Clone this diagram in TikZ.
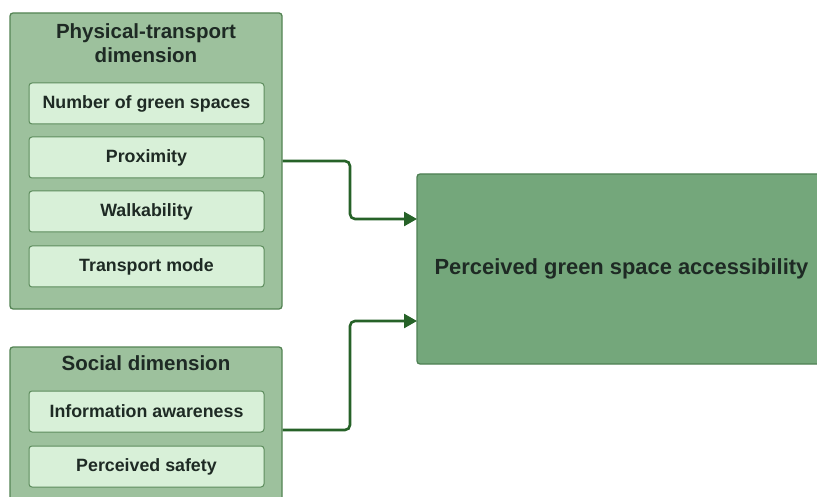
\documentclass[tikz,border=0pt]{standalone}
\usepackage{fontspec}
\setmainfont{Liberation Sans}
\usetikzlibrary{arrows.meta}

\definecolor{groupfill}{RGB}{157,193,157}
\definecolor{groupline}{RGB}{84,132,84}
\definecolor{itemfill}{RGB}{216,240,216}
\definecolor{itemline}{RGB}{92,140,92}
\definecolor{targetfill}{RGB}{116,167,123}
\definecolor{targetline}{RGB}{78,128,84}
\definecolor{linkcol}{RGB}{38,98,40}
\definecolor{labelcol}{RGB}{30,42,36}

\tikzset{
  x=1pt, y=-1pt,
  group/.style={draw=groupline, fill=groupfill, line width=1.3pt,
    rounded corners=3pt, minimum width=272pt, inner sep=0pt},
  item/.style={draw=itemline, fill=itemfill, line width=1pt,
    rounded corners=3pt, minimum width=235pt, minimum height=41pt,
    inner sep=0pt, font=\fontsize{17.8}{20}\selectfont\bfseries, text=labelcol},
  grouptitle/.style={align=center, inner sep=0pt,
    font=\fontsize{20.5}{24}\selectfont\bfseries, text=labelcol},
  target/.style={draw=targetline, fill=targetfill, line width=1.3pt,
    rounded corners=3pt, minimum width=409pt, minimum height=190pt,
    inner sep=0pt, font=\fontsize{21.9}{26}\selectfont\bfseries, text=labelcol},
  link/.style={draw=linkcol, line width=2.6pt, rounded corners=5pt,
    -{Triangle[length=13pt,width=14pt]}}
}

\begin{document}
\begin{tikzpicture}
  \useasboundingbox (0,0) rectangle (817,497);
  \clip (0,0) rectangle (817,497);
  \fill[white] (0,0) rectangle (817,497);

  % physical-transport group
  \node[group, minimum height=296pt] (pt) at (146,161) {};
  \node[grouptitle] (pttitle) at (146,43) {Physical-transport\\dimension};
  \node[item] (ngs)  at (146.5,103.5) {Number of green spaces};
  \node[item] (prox) at (146.5,157.5) {Proximity};
  \node[item] (walk) at (146.5,211.5) {Walkability};
  \node[item] (tm)   at (146.5,266.5) {Transport mode};

  % social group
  \node[group, minimum height=166pt] (soc) at (146,430) {};
  \node[grouptitle] (soctitle) at (146,363) {Social dimension};
  \node[item] (info) at (146.5,411.5) {Information awareness};
  \node[item] (safe) at (146.5,466.5) {Perceived safety};

  % outcome
  \node[target] (pgsa) at (621.5,269) {Perceived green space accessibility};

  % connectors
  \coordinate (in1) at (417,219);
  \coordinate (in2) at (417,321);
  \coordinate (bend1) at (350,190);
  \coordinate (bend2) at (350,375);
  \draw[link] (pt.east) -| (bend1) |- (in1);
  \draw[link] (soc.east) -| (bend2) |- (in2);
\end{tikzpicture}
\end{document}
